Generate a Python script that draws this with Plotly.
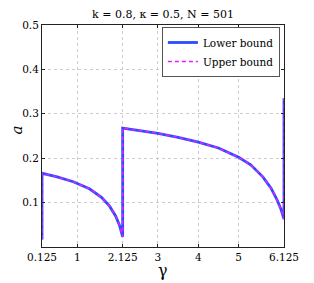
import plotly.graph_objects as go

gamma = [0.125, 0.125, 0.5, 0.9, 1.3, 1.6, 1.8, 1.95, 2.05, 2.1, 2.125,
         2.125, 2.5, 3.0, 3.5, 4.0, 4.5, 5.0, 5.3, 5.6, 5.8, 5.95, 6.05, 6.1, 6.125, 6.125]
lower = [0.017, 0.166, 0.158, 0.147, 0.131, 0.112, 0.092, 0.070, 0.048, 0.030, 0.023,
         0.268, 0.263, 0.256, 0.247, 0.236, 0.223, 0.202, 0.185, 0.158, 0.133, 0.107, 0.085, 0.070, 0.063, 0.335]
upper = lower

xticks = [0.125, 1, 2.125, 3, 4, 5, 6.125]
xticklabels = ["0.125", "1", "2.125", "3", "4", "5", "6.125"]
yticks = [0.1, 0.2, 0.3, 0.4, 0.5]

font = "DejaVu Serif"

fig = go.Figure()
fig.add_trace(go.Scatter(x=gamma, y=lower, mode="lines", name="Lower bound", cliponaxis=False,
                         line=dict(color="#2a4cff", width=2.8)))
fig.add_trace(go.Scatter(x=gamma, y=upper, mode="lines", name="Upper bound", cliponaxis=False,
                         line=dict(color="#e020ff", width=1.6, dash="4px,3px")))

fig.update_layout(
    width=306, height=275,
    margin=dict(l=34, r=30, t=17, b=36, autoexpand=False),
    paper_bgcolor="white", plot_bgcolor="white",
    font=dict(family=font, size=10.5, color="black"),
    title=dict(text="k = 0.8, κ = 0.5, N = 501", x=0.5, xref="paper", xanchor="center",
               y=0.978, yref="container", yanchor="middle", font=dict(family=font, size=11)),
    legend=dict(x=0.983, y=0.991, xanchor="right", yanchor="top",
                bgcolor="white", bordercolor="#555", borderwidth=1,
                font=dict(family=font, size=10.5), tracegroupgap=0, itemwidth=30),
    showlegend=True,
)
fig.update_xaxes(range=[0.125, 6.125], tickvals=xticks, ticktext=xticklabels,
                 automargin=False,
                 showgrid=True, gridcolor="#cccccc", griddash="dot", gridwidth=1,
                 showline=True, linecolor="#222", linewidth=1, mirror="ticks",
                 ticks="inside", ticklen=3, tickcolor="#222", zeroline=False,
                 tickfont=dict(family=font, size=10.5))
fig.update_yaxes(range=[0, 0.5], tickvals=yticks, ticktext=["0.1", "0.2", "0.3", "0.4", "0.5"],
                 automargin=False,
                 showgrid=True, gridcolor="#cccccc", griddash="dot", gridwidth=1,
                 showline=True, linecolor="#222", linewidth=1, mirror="ticks",
                 ticks="inside", ticklen=3, tickcolor="#222", zeroline=False,
                 tickfont=dict(family=font, size=10.5))
fig.add_annotation(text="<i>a</i>", xref="paper", yref="paper", x=-0.105, y=0.527,
                   xanchor="center", yanchor="middle", showarrow=False, textangle=-90,
                   font=dict(family=font, size=15))
fig.add_annotation(text="γ", xref="paper", yref="paper", x=0.5, y=-0.108,
                   xanchor="center", yanchor="middle", showarrow=False,
                   font=dict(family=font, size=16))

fig.write_html("out.html")
